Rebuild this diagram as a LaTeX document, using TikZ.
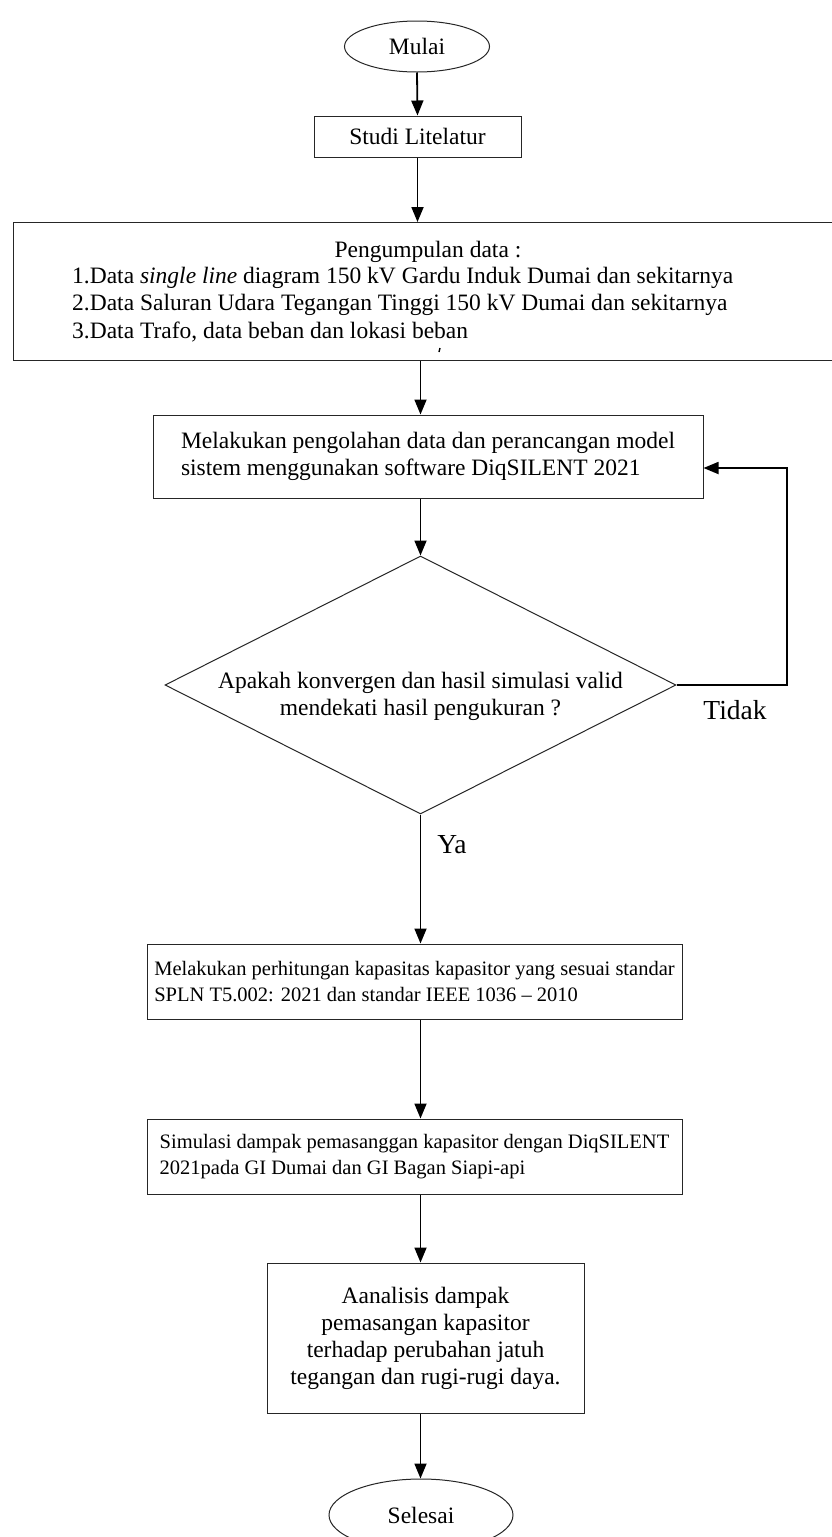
\documentclass[tikz,border=0pt]{standalone}
\usepackage{fontspec}
\setmainfont{Liberation Serif}
\usetikzlibrary{shapes.geometric,arrows.meta}
\begin{document}
\begin{tikzpicture}[x=1pt,y=-1pt,
  box/.style={draw=black!85,line width=1pt,inner sep=0pt,font=\fontsize{23.5}{27}\selectfont},
  smallbox/.style={box,font=\fontsize{20.5}{26}\selectfont},
  flow/.style={line width=1.8pt,-{Triangle[width=12pt,length=15pt]}},
  lbl/.style={inner sep=0pt,font=\fontsize{23.5}{27}\selectfont},
  answer/.style={inner sep=0pt,font=\fontsize{27.5}{30}\selectfont}]
\useasboundingbox (0,0) rectangle (832,1537);
\fill[white] (0,0) rectangle (832,1537);

% terminals and process steps
\node (mulai) [box, ellipse, minimum width=145pt, minimum height=51pt] at (417,46.5) {Mulai};
\node (studi) [box, rectangle, minimum width=207pt, minimum height=41pt] at (417.5,136.5) {Studi Litelatur};

\node (data) [box, rectangle, anchor=north west, minimum width=840pt, minimum height=138pt] at (13,222) {};
\node (d0) [lbl] at (428,252) {Pengumpulan data :};
\node (d1) [lbl, anchor=west] at (72,278) {1.Data \textit{single line} diagram 150 kV Gardu Induk Dumai dan sekitarnya};
\node (d2) [lbl, anchor=west] at (72,305) {2.Data Saluran Udara Tegangan Tinggi 150 kV Dumai dan sekitarnya};
\node (d3) [lbl, anchor=west] at (72,332) {3.Data Trafo, data beban dan lokasi beban};
% small stray stroke under the list
\coordinate (tick) at (440,348);
\draw[line width=1.4pt] (tick) -- ++(-1,4);

\node (proc) [box, rectangle, align=left, minimum width=550pt, minimum height=83pt] at (428,456.5)
  {Melakukan pengolahan data dan perancangan model\\sistem menggunakan software DiqSILENT 2021};

\node (dec) [box, diamond, aspect=1.98, minimum width=511pt, minimum height=258pt] at (420.5,685) {};
\node (dectext) [lbl, align=center] at (420.5,696)
  {Apakah konvergen dan hasil simulasi valid\\mendekati hasil pengukuran ?};

\node (calc) [smallbox, rectangle, align=left, minimum width=535pt, minimum height=75pt] at (414.5,981.5)
  {Melakukan perhitungan kapasitas kapasitor yang sesuai standar\\SPLN T5.002: 2021 dan standar IEEE 1036 -- 2010};
\node (sim) [smallbox, rectangle, align=left, minimum width=535pt, minimum height=75pt] at (414.5,1156.5)
  {Simulasi dampak pemasanggan kapasitor dengan DiqSILENT\\2021pada GI Dumai dan GI Bagan Siapi-api};
\node (anal) [box, rectangle, align=center, minimum width=317pt, minimum height=150pt] at (425.5,1338)
  {Aanalisis dampak\\pemasangan kapasitor\\terhadap perubahan jatuh\\tegangan dan rugi-rugi daya.};
\node (selesai) [box, ellipse, minimum width=184pt, minimum height=72pt] at (421,1515) {Selesai};

% branch labels
\node (tidak) [answer] at (735,710) {Tidak};
\node (ya) [answer] at (452,845) {Ya};

% connectors
\coordinate (ret) at (787,0);
\draw[flow] (mulai.south) -- (studi.north);
\draw[flow] (studi.south) -- (studi.south |- data.north);
\draw[flow] (dec.north |- data.south) -- (dec.north |- proc.north);
\draw[flow] (dec.north |- proc.south) -- (dec.north);
\draw[flow] (dec.south) -- (dec.south |- calc.north);
\draw[flow] (dec.south |- calc.south) -- (dec.south |- sim.north);
\draw[flow] (dec.south |- sim.south) -- (dec.south |- anal.north);
\draw[flow] (dec.south |- anal.south) -- (dec.south |- selesai.north);
\draw[flow] (dec.east) -- (dec.east -| ret) |- ([yshift=-11.5pt]proc.east);
\end{tikzpicture}
\end{document}
